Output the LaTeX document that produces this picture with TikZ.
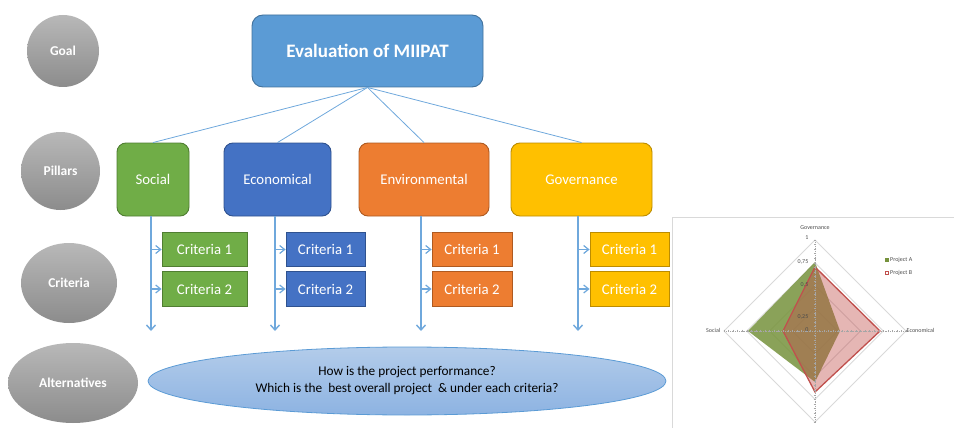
\documentclass[tikz,border=0pt]{standalone}
\usepackage{fontspec}
\setmainfont{Carlito}
\usetikzlibrary{arrows.meta,shapes.geometric,calc}
\definecolor{cgreen}{HTML}{70AD47}\definecolor{cgreenD}{HTML}{507E32}
\definecolor{cblue}{HTML}{4472C4}\definecolor{cblueD}{HTML}{2F528F}
\definecolor{corange}{HTML}{ED7D31}\definecolor{corangeD}{HTML}{AE5A21}
\definecolor{cyellow}{HTML}{FFC000}\definecolor{cyellowD}{HTML}{BC8C00}
\definecolor{ctop}{HTML}{5B9BD5}\definecolor{ctopD}{HTML}{41719C}
\definecolor{cline}{HTML}{6FA8DC}
\definecolor{grayT}{HTML}{B8B8B8}\definecolor{grayB}{HTML}{8C8C8C}
\definecolor{ellT}{HTML}{B3CCEA}\definecolor{ellB}{HTML}{8DB3E2}
\definecolor{gridc}{HTML}{D9D9D9}\definecolor{axisc}{HTML}{A6A6A6}
\definecolor{pa}{HTML}{76923C}\definecolor{pb}{HTML}{C0504D}
\tikzset{
  level/.style={ellipse,inner sep=0pt,top color=grayT,bottom color=grayB,draw=none,
    text=white,font=\fontsize{13.5}{15}\selectfont\bfseries},
  pillar/.style={rounded corners=9pt,draw=#1D,fill=#1,line width=0.9pt,text=white,
    minimum height=73pt,inner sep=0pt,font=\fontsize{14.8}{17}\selectfont},
  crit/.style={draw=#1D,fill=#1,line width=0.8pt,text=white,minimum height=34.5pt,
    inner sep=0pt,font=\fontsize{14.8}{16}\selectfont},
  link/.style={draw=cline,line width=0.8pt},
  down/.style={draw=cline,line width=1.4pt,-{Straight Barb[length=5pt,width=9pt]}},
  side/.style={draw=cline,line width=1.2pt,-{Straight Barb[length=5pt,width=8pt]}},
  tiny/.style={font=\fontsize{6}{7}\selectfont,text=black!70,inner sep=0.5pt}
}
\begin{document}
\begin{tikzpicture}[x=1pt,y=-1pt]
\useasboundingbox (0,0) rectangle (954,428);
% level labels
\node[level,minimum width=72pt,minimum height=72pt] (goal) at (63,51) {Goal};
\node[level,minimum width=79pt,minimum height=78pt] (pil) at (60.5,171) {Pillars};
\node[level,minimum width=96pt,minimum height=80pt] (cri) at (69,283) {Criteria};
\node[level,minimum width=130pt,minimum height=80pt] (alt) at (73,383) {Alternatives};
% top box
\node[rounded corners=11pt,draw=ctopD,fill=ctop,line width=0.9pt,text=white,
  minimum width=231pt,minimum height=72pt,inner sep=0pt,
  font=\fontsize{19}{22}\selectfont\bfseries] (top) at (367.5,51) {Evaluation of MIIPAT};
% pillars
\node[pillar=cgreen,minimum width=72pt] (soc) at (153,179.5) {Social};
\node[pillar=cblue,minimum width=107pt] (eco) at (277.5,179.5) {Economical};
\node[pillar=corange,minimum width=130pt] (env) at (424,179.5) {Environmental};
\node[pillar=cyellow,minimum width=141pt] (gov) at (581.5,179.5) {Governance};
\foreach \p in {soc,eco,env,gov}{\draw[link] (top.south) -- (\p.north);}
% criteria
\node[crit=cgreen,minimum width=85pt] (s1) at (204.5,249.5) {Criteria 1};
\node[crit=cgreen,minimum width=85pt] (s2) at (204.5,289) {Criteria 2};
\node[crit=cblue,minimum width=79pt] (e1) at (325.5,249.5) {Criteria 1};
\node[crit=cblue,minimum width=79pt] (e2) at (325.5,289) {Criteria 2};
\node[crit=corange,minimum width=80pt] (n1) at (472,249.5) {Criteria 1};
\node[crit=corange,minimum width=80pt] (n2) at (472,289) {Criteria 2};
\node[crit=cyellow,minimum width=79pt] (g1) at (629.5,249.5) {Criteria 1};
\node[crit=cyellow,minimum width=79pt] (g2) at (629.5,289) {Criteria 2};
% vertical arrows
\foreach \p/\a/\b/\x in {soc/s1/s2/151,eco/e1/e2/275,env/n1/n2/421,gov/g1/g2/578}{
  \coordinate (\p t) at (\x,216);
  \coordinate (\p e) at (\x,331);
  \draw[down] (\p t) -- (\p e);
  \draw[side] (\a.west -| \p t) -- (\a.west);
  \draw[side] (\b.west -| \p t) -- (\b.west);
}
% question ellipse
\node[ellipse,draw=ctop,line width=0.8pt,top color=ellT,bottom color=ellB,
  minimum width=518pt,minimum height=68pt,inner sep=0pt,align=center,
  font=\fontsize{13.3}{17}\selectfont] (q) at (407,381)
  {How is the project performance?\\Which is the \ best overall project \ \& under each criteria?};
% radar chart
\draw[gridc,line width=0.8pt] (672,429) -- (672,217) -- (955,217);
\coordinate (C) at (815,331);
\foreach \r in {0.25,0.5,0.75,1}{
  \draw[gridc,line width=0.9pt] ($(C)+(0,-91*\r)$) -- ($(C)+(91*\r,0)$) -- ($(C)+(0,91*\r)$) -- ($(C)+(-91*\r,0)$) -- cycle;}
\fill[pa,fill opacity=0.85] (815,262) -- (840,331) -- (815,382) -- (748,331) -- cycle;
\fill[pb,fill opacity=0.42] (815,267) -- (880,331) -- (815,392) -- (783,331) -- cycle;
\draw[pb,line width=1.3pt,line join=miter] (815,267) -- (880,331) -- (815,392) -- (783,331) -- cycle;
\foreach \a in {0,90,180,270}{
  \draw[axisc,line width=0.6pt,dash pattern=on 1.2pt off 1pt] (C) -- ++(\a:91);
  \foreach \k in {1,...,20}{
    \draw[axisc,line width=0.4pt] ($(C)+(\a:4.55*\k)+(\a+90:1.3)$) -- ($(C)+(\a:4.55*\k)+(\a-90:1.3)$);}
}
\node[tiny] (lg) at (815,228) {Governance};
\node[tiny,anchor=east] (v1) at (809,238) {1};
\node[tiny,anchor=east] (v75) at (809,262) {0,75};
\node[tiny,anchor=east] (v5) at (809,285) {0,5};
\node[tiny,anchor=east] (v25) at (809,316.5) {0,25};
\node[tiny,anchor=east] (v0) at (809,330) {0};
\node[tiny,anchor=east] (ls) at (721,330) {Social};
\node[tiny,anchor=west] (le) at (906,330) {Economical};
\fill[pa] (885,258) rectangle (889,262);
\node[tiny,anchor=west] (la) at (889.5,260) {Project A};
\draw[pb,line width=0.9pt,fill=white] (885.3,271) rectangle (888.7,274.4);
\node[tiny,anchor=west] (lb) at (889.5,272.7) {Project B};
\end{tikzpicture}
\end{document}
